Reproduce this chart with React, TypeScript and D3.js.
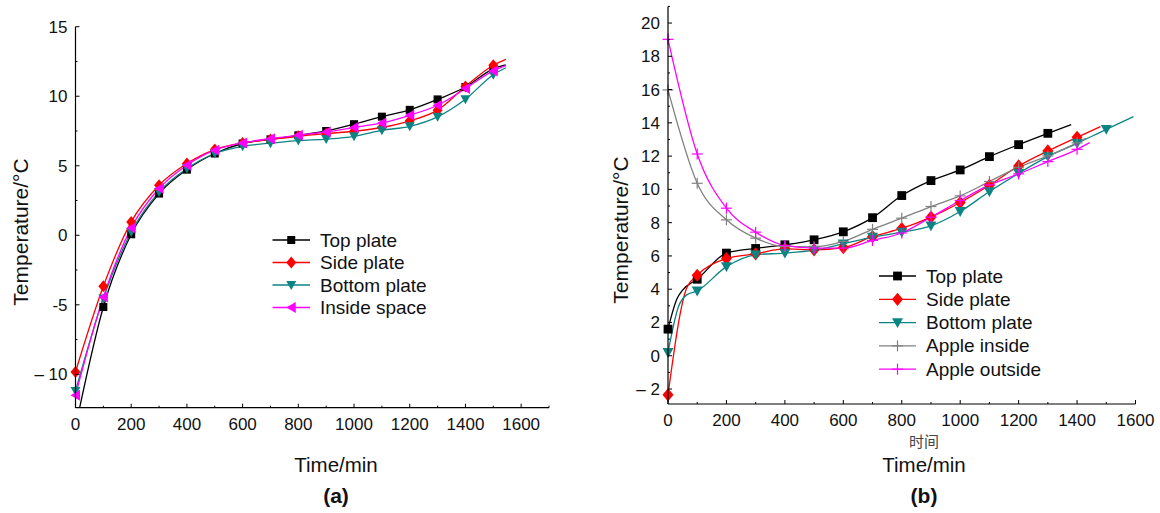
import React from "react";
import * as d3 from "d3";

// ---------- data: panel (a) ----------
const aTopPlate: [number, number][] = [[0,-13.8],[100,-5.16],[200,0.07],[300,3.0],[400,4.72],[500,5.88],[600,6.6],[700,6.9],[800,7.19],[900,7.5],[1000,7.99],[1100,8.53],[1200,9.02],[1300,9.77],[1400,10.66],[1500,11.97],[1545,12.25]];
const aSidePlate: [number, number][] = [[0,-9.83],[100,-3.67],[200,0.96],[300,3.6],[400,5.16],[500,6.16],[600,6.64],[700,6.88],[800,7.12],[900,7.31],[1000,7.48],[1100,7.75],[1200,8.23],[1300,9.0],[1400,10.7],[1500,12.23],[1545,12.65]];
const aBottomPlate: [number, number][] = [[0,-11.2],[100,-4.55],[200,0.24],[300,3.12],[400,4.8],[500,5.88],[600,6.4],[700,6.62],[800,6.81],[900,6.92],[1000,7.12],[1100,7.55],[1200,7.84],[1300,8.52],[1400,9.78],[1500,11.55],[1545,12.05]];
const aInsideSpace: [number, number][] = [[0,-11.5],[100,-4.44],[200,0.53],[300,3.36],[400,5.04],[500,6.12],[600,6.64],[700,6.95],[800,7.19],[900,7.43],[1000,7.75],[1100,8.08],[1200,8.63],[1300,9.35],[1400,10.55],[1500,11.82],[1545,12.2]];

// ---------- data: panel (b) ----------
const bTopPlate: [number, number][] = [[0,1.6],[30,3.4],[50,3.95],[100,4.6],[200,6.17],[300,6.45],[400,6.67],[500,6.97],[600,7.45],[700,8.3],[800,9.63],[900,10.53],[1000,11.17],[1100,11.97],[1200,12.69],[1300,13.37],[1380,13.89]];
const bSidePlate: [number, number][] = [[0,-2.35],[64,4.07],[100,4.84],[200,5.84],[300,6.13],[400,6.42],[500,6.37],[600,6.5],[700,7.17],[800,7.65],[900,8.33],[1000,9.21],[1100,10.25],[1200,11.41],[1300,12.31],[1400,13.13],[1480,13.77]];
const bBottomPlate: [number, number][] = [[0,0.2],[36,2.96],[64,3.66],[100,3.9],[200,5.36],[300,6.07],[400,6.17],[500,6.35],[600,6.73],[700,7.13],[800,7.43],[900,7.81],[1000,8.67],[1100,9.87],[1200,10.97],[1300,11.97],[1400,12.77],[1500,13.61],[1593,14.37]];
const bAppleInside: [number, number][] = [[0,15.98],[100,10.37],[200,8.17],[300,7.07],[400,6.57],[500,6.55],[600,6.87],[700,7.6],[800,8.27],[900,8.97],[1000,9.61],[1100,10.47],[1200,11.33],[1300,12.01],[1400,12.8],[1430,13.07]];
const bAppleOutside: [number, number][] = [[0,19.02],[100,12.13],[200,8.87],[300,7.43],[400,6.63],[500,6.47],[600,6.47],[700,6.93],[800,7.38],[900,8.33],[1000,9.33],[1100,10.27],[1200,10.93],[1300,11.67],[1400,12.41],[1443,12.81]];

// ---------- ticks ----------
const aXTicks = [0,200,400,600,800,1000,1200,1400,1600];
const aXMinor = [100,300,500,700,900,1100,1300,1500,1700];
const aYTicks = [-10,-5,0,5,10,15];
const aYTickLabels = ["\u2013 10","-5","0","5","10","15"];
const aYMinor = [-7.5,-2.5,2.5,7.5,12.5];

const bXTicks = [0,200,400,600,800,1000,1200,1400,1600];
const bXMinor = [100,300,500,700,900,1100,1300,1500];
const bYTicks = [-2,0,2,4,6,8,10,12,14,16,18,20];
const bYTickLabels = ["\u2013 2","0","2","4","6","8","10","12","14","16","18","20"];
const bYMinor = [-1,1,3,5,7,9,11,13,15,17,19,21];

const aSeries = [
  { name: "Top plate", data: aTopPlate, color: "#000000", marker: "square" },
  { name: "Side plate", data: aSidePlate, color: "#ff0000", marker: "diamond" },
  { name: "Bottom plate", data: aBottomPlate, color: "#0b8484", marker: "triDown" },
  { name: "Inside space", data: aInsideSpace, color: "#ff00ff", marker: "triLeft" },
];
const bSeries = [
  { name: "Top plate", data: bTopPlate, color: "#000000", marker: "square" },
  { name: "Side plate", data: bSidePlate, color: "#ff0000", marker: "diamond" },
  { name: "Bottom plate", data: bBottomPlate, color: "#0b8484", marker: "triDown" },
  { name: "Apple inside", data: bAppleInside, color: "#808080", marker: "plus" },
  { name: "Apple outside", data: bAppleOutside, color: "#ff00ff", marker: "plus" },
];

const FONT = "'Liberation Sans', Arial, Helvetica, sans-serif";

function Marker({ type, x, y, color, s = 1 }: { type: string; x: number; y: number; color: string; s?: number }) {
  if (type === "square") return <rect x={x - 4 * s} y={y - 4 * s} width={8 * s} height={8 * s} fill={color} />;
  if (type === "diamond")
    return <polygon points={`${x},${y - 6 * s} ${x + 5 * s},${y} ${x},${y + 6 * s} ${x - 5 * s},${y}`} fill={color} />;
  if (type === "triDown")
    return <polygon points={`${x - 5 * s},${y - 4 * s} ${x + 5 * s},${y - 4 * s} ${x},${y + 5 * s}`} fill={color} />;
  if (type === "triLeft")
    return <polygon points={`${x - 5 * s},${y} ${x + 4.5 * s},${y - 5.5 * s} ${x + 4.5 * s},${y + 5.5 * s}`} fill={color} />;
  // plus
  return (
    <g stroke={color} strokeWidth={1.2}>
      <line x1={x - 5 * s} x2={x + 5 * s} y1={y} y2={y} />
      <line x1={x} x2={x} y1={y - 5 * s} y2={y + 5 * s} />
    </g>
  );
}

type Panel = {
  id: string;
  x: d3.ScaleLinear<number, number>;
  y: d3.ScaleLinear<number, number>;
  xTicks: number[];
  xMinor: number[];
  yTicks: number[];
  yLabels: string[];
  yMinor: number[];
  series: { name: string; data: [number, number][]; color: string; marker: string }[];
  legend: { lineX0: number; lineX1: number; textX: number; y0: number; dy: number };
  xTitleX: number;
  yTitleX: number;
  yTitleY: number;
  tag: string;
  markerScale: number;
  extraLabel?: boolean;
};

function ChartPanel({ p }: { p: Panel }) {
  const [x0, x1] = p.x.range();
  const [yb, yt] = p.y.range();
  const line = d3
    .line<[number, number]>()
    .x((d) => p.x(d[0]))
    .y((d) => p.y(d[1]))
    .curve(d3.curveMonotoneX);
  const clipId = `clip-${p.id}`;
  return (
    <g>
      <defs>
        <clipPath id={clipId}>
          <rect x={x0 - 8} y={yt - 10} width={x1 - x0 + 20} height={yb - yt + 10} />
        </clipPath>
      </defs>
      {/* series */}
      <g clipPath={`url(#${clipId})`}>
        {p.series.map((s) => (
          <path key={s.name} d={line(s.data) || ""} fill="none" stroke={s.color} strokeWidth={1.3} />
        ))}
        {p.series.map((s) =>
          s.data
            .filter((d) => d[0] % 100 === 0)
            .map((d, i) => (
              <Marker key={s.name + i} type={s.marker} x={p.x(d[0])} y={p.y(d[1])} color={s.color} s={p.markerScale} />
            ))
        )}
      </g>
      {/* axes */}
      <line x1={x0} x2={x0} y1={yb} y2={yt} stroke="#000" strokeWidth={1.2} />
      <line x1={x0} x2={x1} y1={yb} y2={yb} stroke="#000" strokeWidth={1.2} />
      {p.xTicks.map((t) => (
        <g key={"xt" + t}>
          <line x1={p.x(t)} x2={p.x(t)} y1={yb} y2={yb - 4} stroke="#000" strokeWidth={1} />
          <text x={p.x(t)} y={yb + 22} textAnchor="middle" fontSize={17} fontFamily={FONT} fill="#111">
            {t}
          </text>
        </g>
      ))}
      {p.xMinor.map((t) => (
        <line key={"xm" + t} x1={p.x(t)} x2={p.x(t)} y1={yb} y2={yb - 2} stroke="#000" strokeWidth={1} />
      ))}
      {p.yTicks.map((t, i) => (
        <g key={"yt" + t}>
          <line x1={x0} x2={x0 + 4} y1={p.y(t)} y2={p.y(t)} stroke="#000" strokeWidth={1} />
          <text x={x0 - 8} y={p.y(t) + 6} textAnchor="end" fontSize={17} fontFamily={FONT} fill="#111">
            {p.yLabels[i]}
          </text>
        </g>
      ))}
      {p.yMinor.map((t) => (
        <line key={"ym" + t} x1={x0} x2={x0 + 2} y1={p.y(t)} y2={p.y(t)} stroke="#000" strokeWidth={1} />
      ))}
      {/* legend */}
      {p.series.map((s, i) => {
        const ly = p.legend.y0 + i * p.legend.dy;
        const mx = (p.legend.lineX0 + p.legend.lineX1) / 2;
        return (
          <g key={"lg" + s.name}>
            <line x1={p.legend.lineX0} x2={p.legend.lineX1} y1={ly} y2={ly} stroke={s.color} strokeWidth={1.3} />
            <Marker type={s.marker} x={mx} y={ly} color={s.color} s={p.markerScale} />
            <text x={p.legend.textX} y={ly + 6.5} fontSize={19} fontFamily={FONT} fill="#111">
              {s.name}
            </text>
          </g>
        );
      })}
      {/* titles */}
      {p.extraLabel && (
        <text x={p.xTitleX} y={447} textAnchor="middle" fontSize={15} fontFamily="'Noto Sans CJK SC', sans-serif" fill="#444">
          时间
        </text>
      )}
      <text x={p.xTitleX} y={472} textAnchor="middle" fontSize={20.5} fontFamily={FONT} fill="#111">
        Time/min
      </text>
      <text x={p.xTitleX} y={503} textAnchor="middle" fontSize={21} fontWeight="bold" fontFamily={FONT} fill="#111">
        {p.tag}
      </text>
      <text
        transform={`translate(${p.yTitleX},${p.yTitleY}) rotate(-90)`}
        textAnchor="middle"
        fontSize={21}
        fontFamily={FONT}
        fill="#111"
      >
        Temperature/°C
      </text>
    </g>
  );
}

export default function App() {
  const panelA: Panel = {
    id: "a",
    x: d3.scaleLinear().domain([0, 1700]).range([75.5, 549]),
    y: d3.scaleLinear().domain([-12.4, 15]).range([407.7, 26.7]),
    xTicks: aXTicks,
    xMinor: aXMinor,
    yTicks: aYTicks,
    yLabels: aYTickLabels,
    yMinor: aYMinor,
    series: aSeries,
    legend: { lineX0: 272.5, lineX1: 310, textX: 320, y0: 240, dy: 22.5 },
    xTitleX: 336,
    yTitleX: 28,
    yTitleY: 232,
    tag: "(a)",
    markerScale: 1,
  };
  const panelB: Panel = {
    id: "b",
    x: d3.scaleLinear().domain([0, 1600]).range([668, 1135.5]),
    y: d3.scaleLinear().domain([-2.9, 21]).range([404, 6.4]),
    xTicks: bXTicks,
    xMinor: bXMinor,
    yTicks: bYTicks,
    yLabels: bYTickLabels,
    yMinor: bYMinor,
    series: bSeries,
    legend: { lineX0: 879, lineX1: 916, textX: 926, y0: 276, dy: 23.3 },
    xTitleX: 924,
    yTitleX: 628,
    yTitleY: 230,
    tag: "(b)",
    markerScale: 1.1,
    extraLabel: true,
  };
  return (
    <svg
      width={1160}
      height={513}
      style={{ position: "absolute", left: 0, top: 0, background: "#fff" }}
      xmlns="http://www.w3.org/2000/svg"
    >
      <rect x={0} y={0} width={1160} height={513} fill="#fff" />
      <ChartPanel p={panelA} />
      <ChartPanel p={panelB} />
    </svg>
  );
}
